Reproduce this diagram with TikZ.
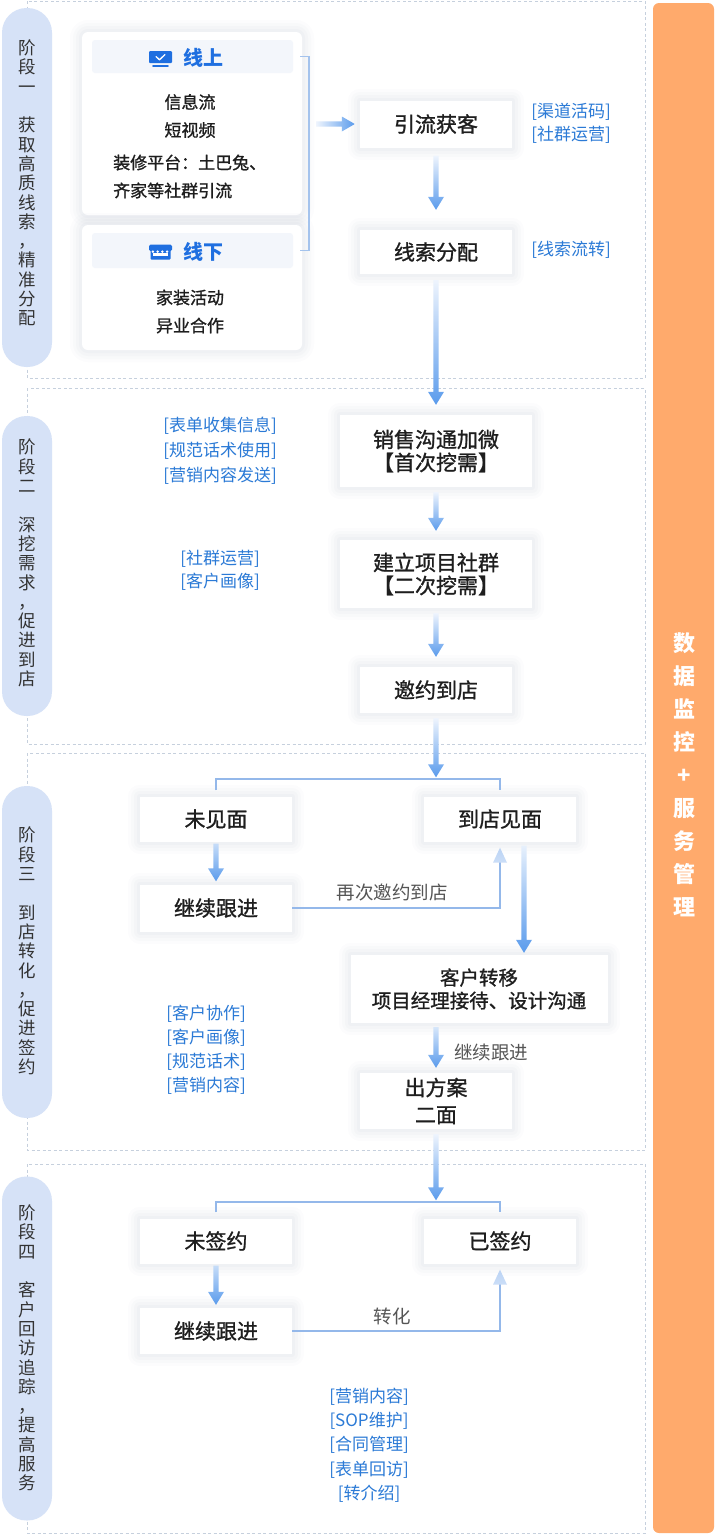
\documentclass[tikz,border=0pt]{standalone}
\usepackage{fontspec}
\setmainfont{Noto Sans CJK SC}
\newfontfamily\medfont[FakeBold=1.1]{Noto Sans CJK SC}
\usetikzlibrary{calc}
\definecolor{orangebar}{HTML}{FFAA6C}
\definecolor{pillblue}{HTML}{D6E2F7}
\definecolor{lblue}{HTML}{2B7AD6}
\definecolor{frameg}{HTML}{C6D0DD}
\definecolor{arrblue}{HTML}{5A9BEC}
\definecolor{arrlight}{HTML}{EEF4FD}
\definecolor{linkblue}{HTML}{94B8EA}
\definecolor{retblue}{HTML}{A9C8F2}
\definecolor{hdrblue}{HTML}{1F6FE0}
\definecolor{hdrbg}{HTML}{F3F6FB}
\definecolor{txt}{HTML}{1E1E1E}
\definecolor{graytxt}{HTML}{555555}
\definecolor{pilltxt}{HTML}{333333}
\definecolor{shadowc}{HTML}{6E7F9E}
\newcommand\myfs[2]{\fontsize{#1}{#2}\selectfont}
% vertical gradient arrow: start, tip, top colour
\newcommand\varrowdraw[3]{%
 \path let \p1=(#1), \p2=(#2) in [shade, top color=#3, bottom color=arrblue]
   (\x1-2.6pt,\y1) -- (\x1+2.6pt,\y1) -- (\x1+2.6pt,\y2+13pt) -- (\x1+8pt,\y2+13pt)
   -- (\x1,\y2) -- (\x1-8pt,\y2+13pt) -- (\x1-2.6pt,\y2+13pt) -- cycle;}
% horizontal gradient arrow: start, tip
\newcommand\harrowdraw[2]{%
 \path let \p1=(#1), \p2=(#2) in [shade, left color=arrlight, right color=arrblue]
   (\x1,\y1-2.6pt) -- (\x2-13pt,\y1-2.6pt) -- (\x2-13pt,\y1-7.5pt) -- (\x2,\y1)
   -- (\x2-13pt,\y1+7.5pt) -- (\x2-13pt,\y1+2.6pt) -- (\x1,\y1+2.6pt) -- cycle;}
% upward light arrow head: tip
\newcommand\upheaddraw[1]{%
 \path let \p1=(#1) in [shade, top color=retblue!80, bottom color=retblue!60!white]
   (\x1,\y1) -- (\x1+7pt,\y1-15pt) -- (\x1-7pt,\y1-15pt) -- cycle;}
\tikzset{
  softshadow/.style={
    preaction={draw=shadowc, draw opacity=0.018, line width=24pt, line join=round},
    preaction={draw=shadowc, draw opacity=0.022, line width=18pt, line join=round},
    preaction={draw=shadowc, draw opacity=0.026, line width=12pt, line join=round},
    preaction={draw=shadowc, draw opacity=0.03, line width=6pt, line join=round}},
  stepbox/.style={fill=white, softshadow, inner sep=0pt, align=center,
      text=txt, font=\medfont\myfs{21}{23}},
  cardbox/.style={fill=white, softshadow, rounded corners=6pt, inner sep=0pt},
  hdrband/.style={fill=hdrbg, rounded corners=3pt, inner sep=0pt,
      minimum width=201, minimum height=33},
  hdrtxt/.style={text=hdrblue, font=\myfs{20}{22}\bfseries, inner sep=0pt},
  cardtxt/.style={text=txt, font=\medfont\myfs{17}{28}, inner sep=0pt},
  lbl/.style={text=lblue, align=center, inner sep=0pt},
  graylbl/.style={text=graytxt, font=\myfs{18.5}{20}, inner sep=0pt},
  frame/.style={draw=frameg, line width=0.9pt, dash pattern=on 3pt off 2.5pt},
  pill/.style={fill=pillblue, rounded corners=24.5pt, minimum width=50,
      inner sep=0pt},
  pilltext/.style={text=pilltxt, align=center, font=\myfs{17.5}{19.3}, inner sep=0pt},
  link/.style={draw=linkblue, line width=2pt},
  brk/.style={draw=linkblue!85, line width=1.6pt},
}
\begin{document}
\begin{tikzpicture}[x=1pt, y=-1pt]
\fill[white] (0,0) rectangle (720,1535);
\useasboundingbox (0,0) rectangle (720,1535);

% ---------- dashed stage frames ----------
\draw[frame] (27,1) rectangle (645,378);
\draw[frame] (27,388) rectangle (645,744);
\draw[frame] (27,753) rectangle (645,1150);
\draw[frame] (27,1164) rectangle (645,1533);

% ---------- right orange bar ----------
\node[fill=orangebar, rounded corners=6pt, minimum width=61, minimum height=1530,
      inner sep=0pt] (bar) at (683.5,768) {};
\node[text=white, align=center, font=\myfs{22}{33}\bfseries, inner sep=0pt] (bartxt)
  at (684,775) {数\\据\\监\\控\\+\\服\\务\\管\\理};

% ---------- stage pills ----------
\node[pill, minimum height=359] (p1) at (27,187.5) {};
\node[pilltext] (p1t) at (27,183) {阶\\段\\一\\\mbox{}\\获\\取\\高\\质\\线\\索\\，\\精\\准\\分\\配};
\node[pill, minimum height=300] (p2) at (27,566) {};
\node[pilltext] (p2t) at (27,563) {阶\\段\\二\\\mbox{}\\深\\挖\\需\\求\\，\\促\\进\\到\\店};
\node[pill, minimum height=332] (p3) at (27,952) {};
\node[pilltext] (p3t) at (27,951) {阶\\段\\三\\\mbox{}\\到\\店\\转\\化\\，\\促\\进\\签\\约};
\node[pill, minimum height=344] (p4) at (27,1348.5) {};
\node[pilltext] (p4t) at (27,1348) {阶\\段\\四\\\mbox{}\\客\\户\\回\\访\\追\\踪\\，\\提\\高\\服\\务};

% ---------- stage 1 : cards ----------
\node[cardbox, minimum width=220, minimum height=183] (onc) at (192,123.5) {};
\node[cardbox, minimum width=220, minimum height=125] (offc) at (192,287.5) {};
\node[hdrband] (onh) at (192.5,56.5) {};
\node[hdrtxt] (ont) at (203,57.5) {线上};
\fill[hdrblue, rounded corners=1pt] (149,51) rectangle (172,63);
\draw[white, line width=1.3pt, line cap=round, line join=round] (156,56.5) -- (159.5,59.8) -- (165,54.5);
\draw[hdrblue, line width=1.6pt, line cap=round] (153,66) -- (168,66);
\node[cardtxt, align=center] (on1) at (190,116) {信息流\\短视频};
\node[cardtxt, align=left, anchor=west] (on2) at (113,176.5) {装修平台：土巴兔、\\齐家等社群引流};

\node[hdrband, minimum height=35] (offh) at (192.5,250.5) {};
\node[hdrtxt] (offt) at (203,252) {线下};
% store icon
\fill[hdrblue, rounded corners=1.5pt] (149,244.5) rectangle (172,251);
\fill[hdrblue, rounded corners=1pt] (150.5,250) rectangle (170.5,259.5);
\fill[white] (153.2,253.2) rectangle (167.8,256);
\foreach \sx in {152.9,157.6,162.4,167.1}
  \fill[white] (\sx,251.6) circle (1.3pt);
\node[cardtxt, align=center] (off1) at (190,311.5) {家装活动\\异业合作};

% bracket joining the two cards
\draw[brk] ($(onh.east)+(7,0)$) -- ++(9,0) coordinate (bt) |- ($(offh.east)+(7,0)$);
\coordinate (bmid) at ($(bt)+(0,70)$);

% ---------- stage 1 : steps ----------
\node[stepbox, minimum width=152, minimum height=47] (yl) at (436,124) {引流获客};
\node[stepbox, minimum width=152, minimum height=44] (xs) at (436,252) {线索分配};
\node[lbl, font=\myfs{17}{23}] (l1) at (571,123.5) {{[渠道活码]}\\{[社群运营]}};
\node[lbl, font=\myfs{17}{23}] (l2) at (571,250) {{[线索流转]}};

\harrowdraw{$(bmid |- yl.west)+(7,0)$}{$(yl.west)+(-5,0)$}
\varrowdraw{$(yl.south)+(0,8)$}{$(xs.north)+(0,-20)$}{arrlight}

% ---------- stage 2 ----------
\node[stepbox, minimum width=192, minimum height=72] (xsgt) at (436,451) {销售沟通加微\\【首次挖需】};
\node[stepbox, minimum width=192, minimum height=68] (jl) at (436,574) {建立项目社群\\【二次挖需】};
\node[stepbox, minimum width=152, minimum height=46] (yy) at (436,690) {邀约到店};
\node[lbl, font=\myfs{17}{25}] (l3) at (220,451) {{[表单收集信息]}\\{[规范话术使用]}\\{[营销内容发送]}};
\node[lbl, font=\myfs{17}{23}] (l4) at (220,570) {{[社群运营]}\\{[客户画像]}};

\varrowdraw{$(xs.south)+(0,6)$}{$(xsgt.north)+(0,-10)$}{arrlight}
\varrowdraw{$(xsgt.south)+(0,5)$}{$(jl.north)+(0,-9)$}{arrlight}
\varrowdraw{$(jl.south)+(0,5)$}{$(yy.north)+(0,-10)$}{arrlight}

% ---------- stage 3 ----------
\node[stepbox, minimum width=152, minimum height=45] (wjm) at (216,819) {未见面};
\node[stepbox, minimum width=152, minimum height=45] (djm) at (500,819) {到店见面};
\node[stepbox, minimum width=152, minimum height=47] (jx1) at (216,908) {继续跟进};
\node[stepbox, minimum width=257, minimum height=68, font=\medfont\myfs{19.5}{23}] (kh) at (479,989) {客户转移\\项目经理接待、设计沟通};
\node[stepbox, minimum width=152, minimum height=56, font=\medfont\myfs{21}{27}] (cfa) at (436,1101) {出方案\\二面};
\node[lbl, font=\myfs{17}{24}] (l5) at (206,1050) {{[客户协作]}\\{[客户画像]}\\{[规范话术]}\\{[营销内容]}};

\coordinate (b3) at ($(wjm.north)+(0,-17)$);
\draw[link] ($(wjm.north)+(0,-6)$) -- (b3) -| ($(djm.north)+(0,-6)$);
\varrowdraw{$(yy.south)+(0,5)$}{$(yy.south |- b3)+(0,-2)$}{arrlight}
\varrowdraw{$(wjm.south)+(0,2)$}{$(jx1.north)+(0,-3)$}{arrblue!35}
\draw[link] (jx1.east) -| ($(djm.south)+(0,20)$);
\upheaddraw{$(djm.south)+(0,6)$}
\node[graylbl] (t1) at (392,892) {再次邀约到店};
\varrowdraw{$(djm.south)+(24,4)$}{$(kh.north)+(0,-2)$}{arrblue!15}
\varrowdraw{$(kh.south)+(-43,4)$}{$(cfa.north)+(0,-5)$}{arrblue!25}
\node[graylbl] (t2) at (491,1052) {继续跟进};

% ---------- stage 4 ----------
\node[stepbox, minimum width=152, minimum height=45] (wqy) at (216,1241) {未签约};
\node[stepbox, minimum width=152, minimum height=45] (yqy) at (500,1241) {已签约};
\node[stepbox, minimum width=152, minimum height=46] (jx2) at (216,1331) {继续跟进};
\node[lbl, font=\myfs{17}{24.3}] (l6) at (369,1445) {{[营销内容]}\\{[SOP维护]}\\{[合同管理]}\\{[表单回访]}\\{[转介绍]}};

\coordinate (b4) at ($(wqy.north)+(0,-16)$);
\draw[link] ($(wqy.north)+(0,-6)$) -- (b4) -| ($(yqy.north)+(0,-6)$);
\varrowdraw{$(cfa.south)+(0,5)$}{$(cfa.south |- b4)+(0,-2)$}{arrlight}
\varrowdraw{$(wqy.south)+(0,2)$}{$(jx2.north)+(0,-3)$}{arrblue!35}
\draw[link] (jx2.east) -| ($(yqy.south)+(0,20)$);
\upheaddraw{$(yqy.south)+(0,6)$}
\node[graylbl] (t3) at (392,1316) {转化};
\end{tikzpicture}
\end{document}
